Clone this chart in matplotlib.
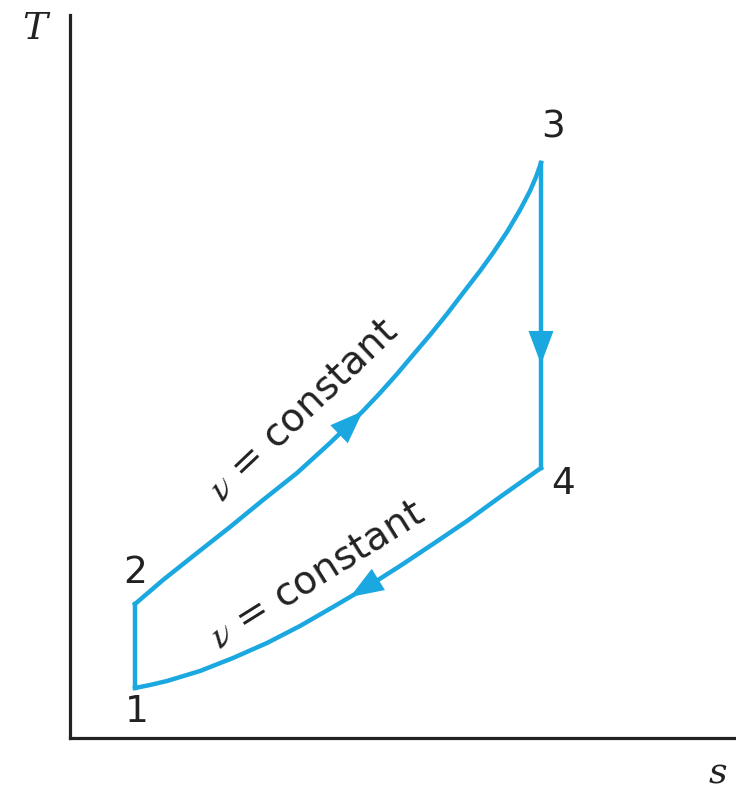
import matplotlib
matplotlib.use("Agg")
import matplotlib.pyplot as plt

# ---- data (s, T in arbitrary units) ----
state_labels = ["1", "2", "3", "4"]
state_s = [65, 65, 471, 471]
state_T = [50, 134, 575, 270]

# v = constant heating curve 2 -> 3
curve23_s = [65, 93, 127, 160, 193, 227, 260, 293, 310, 327, 343, 360, 377, 393,
             410, 423, 437, 450, 460, 466, 471]
curve23_T = [134, 158, 185, 211, 238, 265, 295, 327, 345, 364, 383, 403, 424, 445,
             467, 485, 506, 528, 547, 561, 575]

# v = constant cooling curve 4 -> 1
curve41_s = [471, 430, 397, 363, 330, 297, 263, 230, 197, 163, 130, 97, 80, 65]
curve41_T = [270, 241, 217, 194, 172, 151, 131, 112, 95, 80, 67, 57, 53, 50]

curve_label = r"$\nu$ = constant"

BLUE = "#1ba8e0"
DARK = "#222222"

plt.rcParams["mathtext.fontset"] = "stix"
plt.rcParams["font.family"] = ["DejaVu Sans"]

W, H = 736, 790
fig = plt.figure(figsize=(W / 100, H / 100), dpi=100)
left, right, top, bottom = 70, 736, 15, 738
ax = fig.add_axes([left / W, (H - bottom) / H, (right - left) / W, (bottom - top) / H])
ax.set_xlim(0, right - left)
ax.set_ylim(0, bottom - top)
ax.set_xticks([])
ax.set_yticks([])
for sp in ["top", "right"]:
    ax.spines[sp].set_visible(False)
for sp in ["left", "bottom"]:
    ax.spines[sp].set_linewidth(2.3)
    ax.spines[sp].set_color(DARK)
ax.patch.set_alpha(0)

lw = 3.2
ax.plot([state_s[0], state_s[1]], [state_T[0], state_T[1]], color=BLUE, lw=lw)
ax.plot(curve23_s, curve23_T, color=BLUE, lw=lw, solid_joinstyle="round")
ax.plot([state_s[2], state_s[3]], [state_T[2], state_T[3]], color=BLUE, lw=lw)
ax.plot(curve41_s, curve41_T, color=BLUE, lw=lw, solid_joinstyle="round")

def arrow(p_from, p_to):
    ax.annotate("", xy=p_to, xytext=p_from,
                arrowprops=dict(arrowstyle="-|>,head_length=1.2,head_width=0.45",
                                mutation_scale=20, color=BLUE, lw=0,
                                shrinkA=0, shrinkB=0))

arrow((curve23_s[6], curve23_T[6]), (curve23_s[7], curve23_T[7]))
mid_T = state_T[3] + (state_T[2] - state_T[3]) * 0.34
arrow((state_s[2], mid_T + 40), (state_s[2], mid_T))
tip41 = ((curve41_s[5] + curve41_s[6]) / 2, (curve41_T[5] + curve41_T[6]) / 2)
arrow((curve41_s[4], curve41_T[4]), tip41)

# state number labels
offsets = [(2, -24), (0, 31), (12, 36), (22, -16)]
for lab, s, T, off in zip(state_labels, state_s, state_T, offsets):
    ax.annotate(lab, xy=(s, T), xytext=off, textcoords="offset pixels",
                ha="center", va="center", fontsize=27, color=DARK)

# curve labels
ax.text(233, 328, curve_label, rotation=43.5, rotation_mode="anchor",
        ha="center", va="center", fontsize=28, color=DARK)
ax.text(247, 164, curve_label, rotation=32, rotation_mode="anchor",
        ha="center", va="center", fontsize=28, color=DARK)

# axis labels
fig.text(35 / W, 1 - 29 / H, "T", fontsize=27, style="italic",
         family="DejaVu Serif", ha="center", va="center", color=DARK)
fig.text(718 / W, 1 - 773 / H, "s", fontsize=26, style="italic",
         family="DejaVu Serif", ha="center", va="center", color=DARK)

fig.savefig("out.png", dpi=100, facecolor="white")
